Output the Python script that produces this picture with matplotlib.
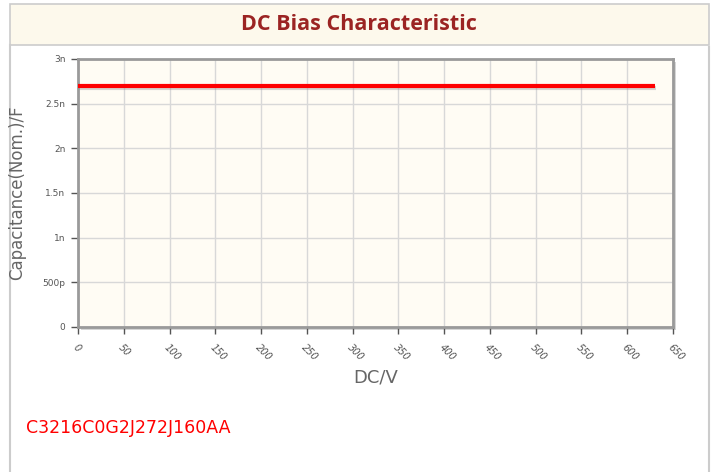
import matplotlib.pyplot as plt
from matplotlib.patches import Rectangle
import matplotlib.patheffects as pe

# chart data
dc_volts = [0, 630]
capacitance = [2.7e-9, 2.7e-9]
x_ticks = list(range(0, 651, 50))
y_ticks = [0, 0.5e-9, 1.0e-9, 1.5e-9, 2.0e-9, 2.5e-9, 3.0e-9]
y_tick_labels = ["0", "500p", "1n", "1.5n", "2n", "2.5n", "3n"]
part_number = "C3216C0G2J272J160AA"

W, H = 717, 472
fig = plt.figure(figsize=(W / 100, H / 100), dpi=100)
fig.patch.set_facecolor("white")

def px(x0, y0, x1, y1):
    # convert pixel box (top-left origin) to figure fraction
    return [x0 / W, 1 - y1 / H, (x1 - x0) / W, (y1 - y0) / H]

# outer panel + header band
bg = fig.add_axes([0, 0, 1, 1], zorder=-5)
bg.set_xlim(0, W)
bg.set_ylim(H, 0)
bg.axis("off")
bg.add_patch(Rectangle((10, 4), 699, 41, facecolor="#fdf9ec", edgecolor="#cccccc", lw=1.2))
bg.plot([10, 10], [45, H], color="#cccccc", lw=1.5)
bg.plot([709, 709], [47, H], color="#cccccc", lw=1.5)
bg.text(359, 25, "DC Bias Characteristic", ha="center", va="center",
        fontsize=15.5, fontweight="bold", color="#9b2423", family="Open Sans")

# shadow behind the plot frame
bg.add_patch(Rectangle((81, 62), 595, 268, facecolor="#d6d6d6", edgecolor="none"))

ax = fig.add_axes(px(78, 59, 673, 327))
ax.set_facecolor("#fffcf4")
ax.plot(dc_volts, capacitance, color="#ff0000", lw=3, solid_capstyle="butt",
        path_effects=[pe.SimpleLineShadow(offset=(1, -1.5), shadow_color="#999999", alpha=0.4), pe.Normal()],
        zorder=3)

ax.set_xlim(0, 650)
ax.set_ylim(0, 3e-9)
ax.set_xticks(x_ticks)
ax.set_yticks(y_ticks)
ax.set_yticklabels(y_tick_labels)
ax.grid(True, color="#d8d8d8", lw=1)
ax.set_axisbelow(True)
for s in ax.spines.values():
    s.set_color("#9a9a9a")
    s.set_linewidth(2)

ax.tick_params(axis="y", labelsize=6.5, colors="#555555", length=5, width=1, pad=4)
ax.tick_params(axis="x", labelsize=7, colors="#555555", length=5, width=1, pad=6)
for lbl in ax.get_xticklabels():
    lbl.set_rotation(-45)
    lbl.set_ha("left")
    lbl.set_va("top")
    lbl.set_style("italic")
    lbl.set_rotation_mode("anchor")

ax.set_xlabel("DC/V", fontsize=13, color="#666666", labelpad=4)
ax.set_ylabel("Capacitance(Nom.)/F", fontsize=12, color="#666666", labelpad=12)

fig.text(26 / W, 1 - 428 / H, part_number, color="#ff0000", fontsize=12.5,
         ha="left", va="center")

fig.savefig("out.png", dpi=100)
